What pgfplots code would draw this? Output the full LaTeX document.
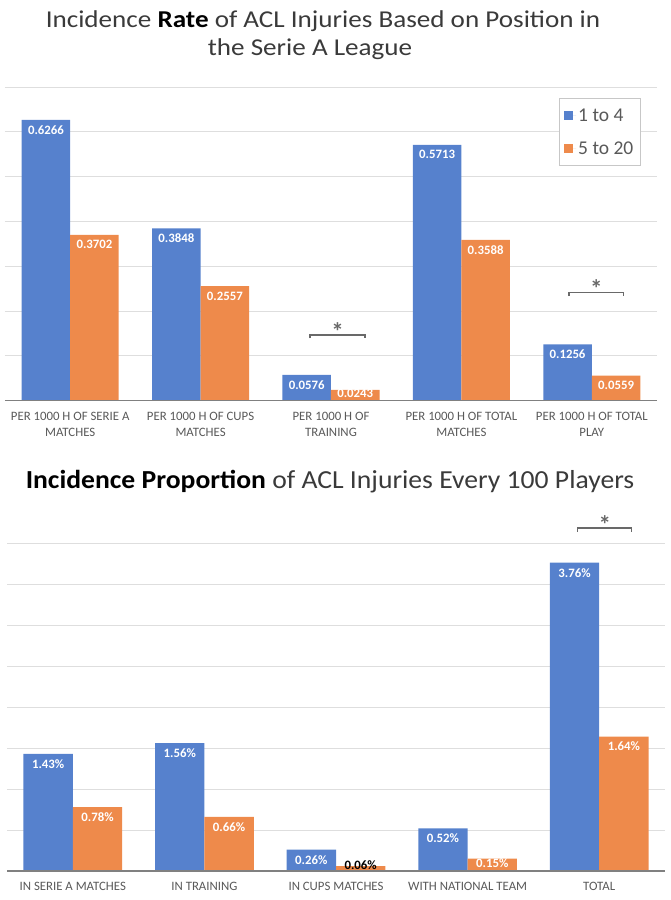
\documentclass[border=0pt]{standalone}
\usepackage{fontspec}
\setmainfont{Carlito}
\usepackage{graphicx}
\usepackage{pgfplots}
\pgfplotsset{compat=1.18}
\usepackage{pgfplotstable}

\definecolor{cblue}{RGB}{86,129,205}
\definecolor{corange}{RGB}{238,138,75}
\definecolor{tgray}{RGB}{89,89,89}
\definecolor{ggray}{RGB}{222,222,222}
\definecolor{bgray}{RGB}{105,105,105}
\definecolor{ttl}{RGB}{58,58,58}

\tikzset{sigstar/.style={text=bgray, font=\bfseries\fontsize{25}{25}\selectfont, anchor=base}}

\pgfplotstableread{
x y dy w
0 0.6266 -2 100
1 0.3848 -2 100
2 0.0576 -2 100
3 0.5713 -2 100
4 0.1256 -2 100
}\topblue
\pgfplotstableread{
x y dy w
0 0.3702 -2 100
1 0.2557 -2 100
2 0.0243 4.5 100
3 0.3588 -2 100
4 0.0559 -2 100
}\toporange
\pgfplotstableread{
x y dy w
0 1.43 -2 100
1 1.56 -2 100
2 0.26 -2 100
3 0.52 -2 100
4 3.76 -2 100
}\botblue
\pgfplotstableread{
x y dy w
0 0.78 -2 100
1 0.66 -2 100
2 0.06 9.3 0
3 0.15 3.6 100
4 1.64 -2 100
}\botorange

\pgfplotsset{
  mybase/.style={
    scale only axis, anchor=south west,
    xmin=-0.5, xmax=4.5, ymin=0,
    axis line style={draw=none},
    major tick length=0pt,
    xtick={0,1,2,3,4},
    yticklabels={},
    ymajorgrids, grid style={draw=ggray, line width=1pt},
    xticklabel style={font=\fontsize{12.8}{15.6}\selectfont, text=tgray, align=center, yshift=-8pt},
    ybar=0pt,
    clip=false,
    /pgf/number format/assume math mode=true,
    legend image code/.code={\fill[##1] (0pt,-4.35pt) rectangle (8.7pt,4.35pt); \path (0pt,0pt) -- (12pt,0pt);},
  },
  mylab/.style={
    visualization depends on={\thisrow{dy} \as \labdy},
    visualization depends on={\thisrow{w} \as \labw},
    every node near coord/.append style={anchor=north, yshift=\labdy pt, text=white!\labw!black,
      font=\bfseries\fontsize{12.8}{14}\selectfont},
  },
}

\begin{document}
\begin{tikzpicture}
\path[use as bounding box] (0pt,0pt) rectangle (670pt,-900pt);

\node[font=\fontsize{24.2}{28}\selectfont, text=ttl, anchor=base, inner sep=0pt] at (323pt,-27.3pt)
  {\scalebox{1.12}[1]{Incidence \textcolor{black}{\textbf{Rate}} of ACL Injuries Based on Position in}};
\node[font=\fontsize{24.2}{28}\selectfont, text=ttl, anchor=base, inner sep=0pt] at (310pt,-55pt)
  {\scalebox{1.12}[1]{the Serie A League}};

\begin{axis}[mybase,
  at={(5pt,-400.7pt)}, width=652pt, height=313.6pt,
  ymax=0.7, ytick={0.1,0.2,0.3,0.4,0.5,0.6,0.7},
  xticklabels={{PER 1000 H OF SERIE A\\MATCHES},{PER 1000 H OF CUPS\\MATCHES},{PER 1000 H OF\\TRAINING},{PER 1000 H OF TOTAL\\MATCHES},{PER 1000 H OF TOTAL\\PLAY}},
  nodes near coords={\pgfmathprintnumber[fixed,precision=4,fixed zerofill]{\pgfplotspointmeta}},
  legend style={at={(0.975,0.965)}, anchor=north east, draw=black!22, line width=0.8pt,
    font=\fontsize{19.5}{22}\selectfont, text=tgray, row sep=15pt, inner xsep=5pt, inner ysep=8pt,
    cells={anchor=west}},
]
\addplot[fill=cblue, draw=none, bar width=0.372, bar shift=-0.186, mylab] table[x=x,y=y] {\topblue};
\addplot[fill=corange, draw=none, bar width=0.372, bar shift=0.186, mylab] table[x=x,y=y] {\toporange};
\legend{1 to 4, 5 to 20}
\draw[color=black!50, line width=1.2pt] (axis cs:-0.5,0) -- (axis cs:4.5,0);
\draw[bgray, line width=1.4pt] (axis cs:1.839,0.1467) ++(0pt,-3.5pt) -- ++(0pt,3.5pt) -- (axis cs:2.261,0.1467) -- ++(0pt,-3.5pt);
\node[sigstar] at (axis cs:2.05,0.1345) {*};
\draw[bgray, line width=1.4pt] (axis cs:3.825,0.241) ++(0pt,-3.5pt) -- ++(0pt,3.5pt) -- (axis cs:4.245,0.241) -- ++(0pt,-3.5pt);
\node[sigstar] at (axis cs:4.035,0.2305) {*};
\end{axis}

\node[font=\fontsize{26}{30}\selectfont, text=ttl, anchor=base, inner sep=0pt] at (330pt,-488.3pt)
  {\scalebox{1.063}[1]{\textcolor{black}{\textbf{Incidence Proportion}} of ACL Injuries Every 100 Players}};

\begin{axis}[mybase,
  at={(7pt,-871pt)}, width=658pt, height=328pt,
  ymax=4, ytick={0.5,1,1.5,2,2.5,3,3.5,4},
  xticklabels={IN SERIE A MATCHES, IN TRAINING, IN CUPS MATCHES, WITH NATIONAL TEAM, TOTAL},
  nodes near coords={\pgfmathprintnumber[fixed,precision=2,fixed zerofill]{\pgfplotspointmeta}\%},
]
\addplot[fill=cblue, draw=none, bar width=0.375, bar shift=-0.1875, mylab] table[x=x,y=y] {\botblue};
\addplot[fill=corange, draw=none, bar width=0.375, bar shift=0.1875, mylab] table[x=x,y=y] {\botorange};
\draw[color=black!50, line width=1.2pt] (axis cs:-0.5,0) -- (axis cs:4.5,0);
\draw[bgray, line width=1.4pt] (axis cs:3.837,4.183) ++(0pt,-3.5pt) -- ++(0pt,3.5pt) -- (axis cs:4.247,4.183) -- ++(0pt,-3.5pt);
\node[sigstar] at (axis cs:4.042,4.12) {*};
\end{axis}
\end{tikzpicture}
\end{document}
